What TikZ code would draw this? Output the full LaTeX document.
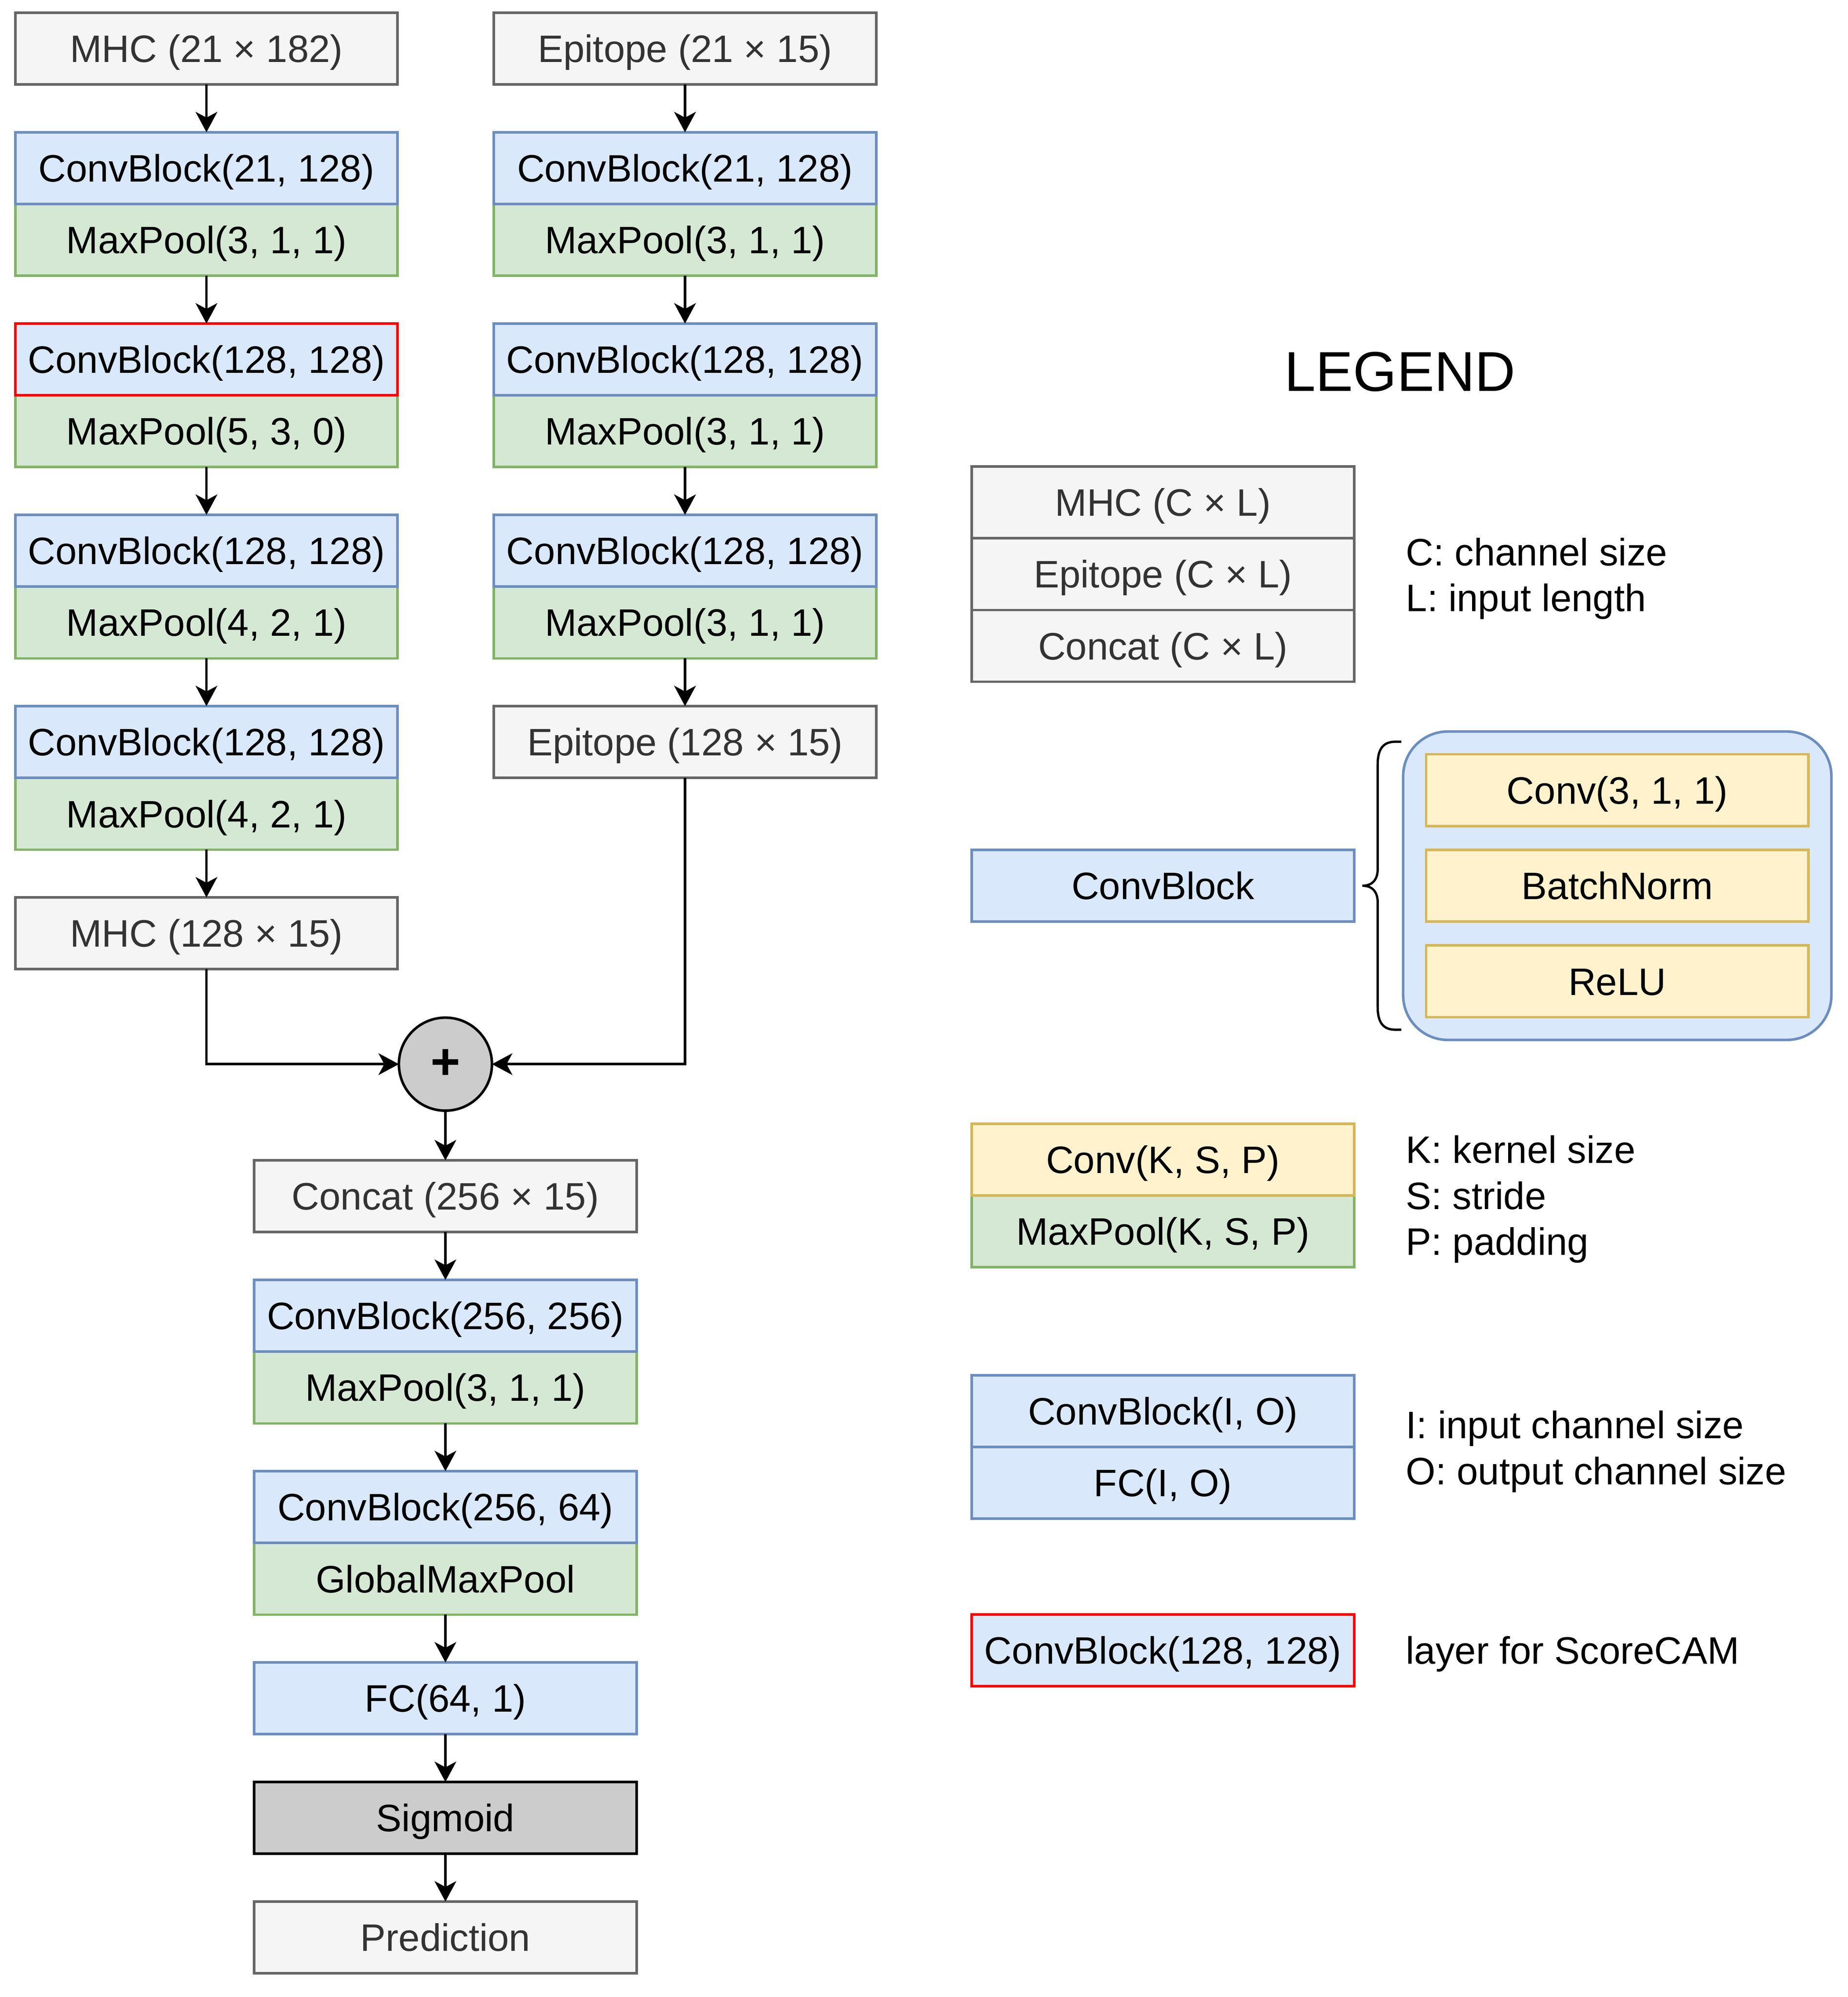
\documentclass[tikz,border=0pt]{standalone}
\usepackage{fontspec}
\setmainfont{Liberation Sans}
\usetikzlibrary{positioning, arrows.meta}
\definecolor{iofill}{HTML}{F5F5F5}
\definecolor{ioline}{HTML}{666666}
\definecolor{iotext}{HTML}{333333}
\definecolor{convfill}{HTML}{DAE8FC}
\definecolor{convline}{HTML}{6C8EBF}
\definecolor{poolfill}{HTML}{D5E8D4}
\definecolor{poolline}{HTML}{82B366}
\definecolor{opfill}{HTML}{FFF2CC}
\definecolor{opline}{HTML}{D6B656}
\definecolor{sumfill}{HTML}{CCCCCC}
\tikzset{>={Stealth[length=16pt,width=17pt,inset=4.5pt]}, node distance=37.5pt,
  blk/.style={rectangle, draw, line width=2pt, minimum width=300pt, minimum height=56.3pt, inner sep=0pt, outer sep=0pt, text height=21.5pt, text depth=0pt, font=\fontsize{30}{36}\selectfont},
  iobox/.style={blk, fill=iofill, draw=ioline, text=iotext},
  convbox/.style={blk, fill=convfill, draw=convline},
  poolbox/.style={blk, fill=poolfill, draw=poolline},
  opbox/.style={blk, fill=opfill, draw=opline},
  sigbox/.style={blk, fill=sumfill, draw=black},
  cambox/.style={blk, fill=convfill, draw=red},
  note/.style={anchor=west, inner sep=0pt, text height=21.5pt, text depth=0pt, font=\fontsize{30}{36}\selectfont},
  flow/.style={->, line width=2pt}}

\begin{document}
\begin{tikzpicture}[x=1pt, y=-1pt]
    \useasboundingbox (0,0) rectangle (1450,1567);
    % MHC branch
    \node[iobox] (mhcin) at (162,38.15) {MHC (21 × 182)};
    \node[poolbox, below=93.8pt of mhcin] (mp1) {MaxPool(3, 1, 1)};
    \node[convbox, above=0pt of mp1] (cb1) {ConvBlock(21, 128)};
    \node[poolbox, below=93.8pt of mp1] (mp2) {MaxPool(5, 3, 0)};
    \node[cambox, above=0pt of mp2] (cb2) {ConvBlock(128, 128)};
    \node[poolbox, below=93.8pt of mp2] (mp3) {MaxPool(4, 2, 1)};
    \node[convbox, above=0pt of mp3] (cb3) {ConvBlock(128, 128)};
    \node[poolbox, below=93.8pt of mp3] (mp4) {MaxPool(4, 2, 1)};
    \node[convbox, above=0pt of mp4] (cb4) {ConvBlock(128, 128)};
    \node[iobox, below=of mp4] (mhcout) {MHC (128 × 15)};
    % Epitope branch
    \node[iobox] (epin) at (537.5,38.15) {Epitope (21 × 15)};
    \node[poolbox, below=93.8pt of epin] (emp1) {MaxPool(3, 1, 1)};
    \node[convbox, above=0pt of emp1] (ecb1) {ConvBlock(21, 128)};
    \node[poolbox, below=93.8pt of emp1] (emp2) {MaxPool(3, 1, 1)};
    \node[convbox, above=0pt of emp2] (ecb2) {ConvBlock(128, 128)};
    \node[poolbox, below=93.8pt of emp2] (emp3) {MaxPool(3, 1, 1)};
    \node[convbox, above=0pt of emp3] (ecb3) {ConvBlock(128, 128)};
    \node[iobox, below=of emp3] (epout) {Epitope (128 × 15)};
    % merged part
    \node[circle, draw, fill=sumfill, line width=2pt, minimum size=73pt, inner sep=0pt, outer sep=0pt, font=\fontsize{40}{48}\selectfont\bfseries] (sum) at (349.5,835) {+};
    \node[iobox, below=39pt of sum] (concat) {Concat (256 × 15)};
    \node[poolbox, below=93.8pt of concat] (bmp1) {MaxPool(3, 1, 1)};
    \node[convbox, above=0pt of bmp1] (bcb1) {ConvBlock(256, 256)};
    \node[poolbox, below=93.8pt of bmp1] (gmp) {GlobalMaxPool};
    \node[convbox, above=0pt of gmp] (bcb2) {ConvBlock(256, 64)};
    \node[convbox, below=of gmp] (fc) {FC(64, 1)};
    \node[sigbox, below=of fc] (sig) {Sigmoid};
    \node[iobox, below=of sig] (pred) {Prediction};

    \draw[flow] (mhcin) edge (cb1) (mp1) edge (cb2) (mp2) edge (cb3) (mp3) edge (cb4) (mp4) edge (mhcout);
    \draw[flow] (epin) edge (ecb1) (emp1) edge (ecb2) (emp2) edge (ecb3) (emp3) edge (epout);
    \draw[flow] (mhcout) |- (sum);
    \draw[flow] (epout) |- (sum);
    \draw[flow] (sum) edge (concat) (concat) edge (bcb1) (bmp1) edge (bcb2) (gmp) edge (fc)
        (fc) edge (sig) (sig) edge (pred);

    % legend
    \node[inner sep=0pt, text height=31.5pt, text depth=0pt, font=\fontsize{44}{52}\selectfont] (legend) at (1098.5,291) {LEGEND};
    \node[iobox] (lgmhc) at (912.5,394.2) {MHC (C × L)};
    \node[iobox, below=0pt of lgmhc] (lgep) {Epitope (C × L)};
    \node[iobox, below=0pt of lgep] (lgcat) {Concat (C × L)};
    \node[note] (ctext) at (1103,433) {C: channel size};
    \node[note] (ltext) at (1103,469) {L: input length};

    \node[convbox] (lgcb) at (912.5,695) {ConvBlock};
    \node[draw=convline, fill=convfill, line width=2pt, rounded corners=35pt, minimum width=336pt, minimum height=242pt, inner sep=0pt] (cbinside) at (1269,695) {};
    \node[opbox] (lgconv) at (1269,620) {Conv(3, 1, 1)};
    \node[opbox, below=18.7pt of lgconv] (lgbn) {BatchNorm};
    \node[opbox, below=18.7pt of lgbn] (lgrelu) {ReLU};
    \draw[line width=1.8pt] (1099.5,582) -- (1095,582) .. controls (1085,582) and (1081,588) .. (1081,600) -- (1081,682)
        .. controls (1081,690) and (1077,695) .. (1069,695) .. controls (1077,695) and (1081,700) .. (1081,708) -- (1081,790)
        .. controls (1081,802) and (1085,808) .. (1095,808) -- (1099.5,808);

    \node[poolbox] (lgpool) at (912.5,966.2) {MaxPool(K, S, P)};
    \node[opbox, above=0pt of lgpool] (lgop) {Conv(K, S, P)};
    \node[note] (ktext) at (1103,902) {K: kernel size};
    \node[note] (stext) at (1103,938) {S: stride};
    \node[note] (ptext) at (1103,974) {P: padding};

    \node[convbox] (lgcbio) at (912.5,1107.3) {ConvBlock(I, O)};
    \node[convbox, below=0pt of lgcbio] (lgfc) {FC(I, O)};
    \node[note] (itext) at (1103,1118) {I: input channel size};
    \node[note] (otext) at (1103,1154) {O: output channel size};

    \node[cambox] (lgcam) at (912.5,1295) {ConvBlock(128, 128)};
    \node[note] (camtext) at (1103,1295) {layer for ScoreCAM};
\end{tikzpicture}
\end{document}
